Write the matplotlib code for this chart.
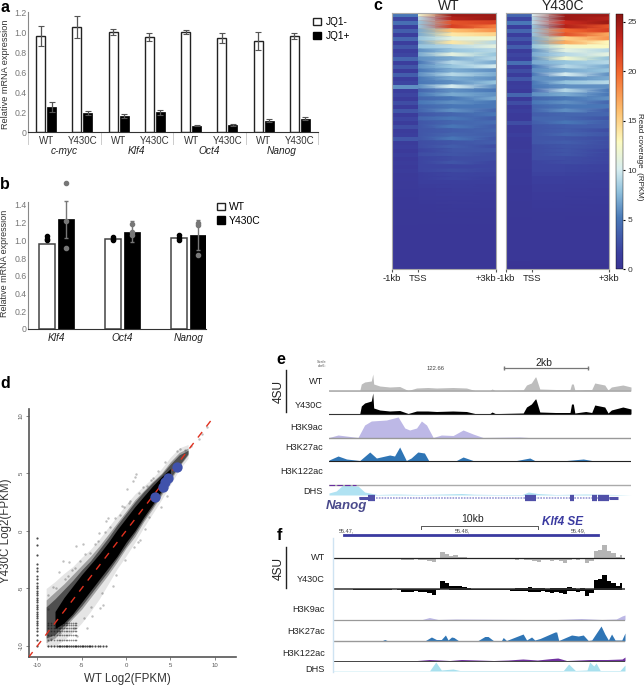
import numpy as np
import matplotlib
matplotlib.use('Agg')
import matplotlib.pyplot as plt
from matplotlib.colors import LinearSegmentedColormap
from matplotlib.patches import Patch

plt.rcParams['font.family'] = ['Liberation Sans', 'DejaVu Sans']

# panel a
a_labels = ['WT', 'Y430C'] * 4
a_groups = ['c-myc', 'Klf4', 'Oct4', 'Nanog']
a_minus = [0.96, 1.05, 1.00, 0.95, 1.00, 0.94, 0.91, 0.96]
a_minus_err = [0.10, 0.11, 0.03, 0.04, 0.02, 0.05, 0.09, 0.03]
a_plus = [0.25, 0.19, 0.16, 0.20, 0.065, 0.075, 0.115, 0.135]
a_plus_err = [0.05, 0.02, 0.02, 0.025, 0.005, 0.01, 0.015, 0.012]

# panel b
b_groups = ['Klf4', 'Oct4', 'Nanog']
b_wt = [0.96, 1.015, 1.03]
b_mut = [1.24, 1.10, 1.06]
b_mut_err = [0.21, 0.12, 0.17]
b_wt_dots = [[1.0, 1.02, 1.05], [1.0, 1.02, 1.04], [1.01, 1.03, 1.06]]
b_mut_dots = [[1.65, 1.22, 0.91], [1.18, 1.06, 1.10], [1.2, 1.17, 0.83]]

# panel c, rows from top to bottom
wt_left = [5, 2, 4.5, 1.5, 3.5, 1.5, 4, 1.5, 3, 1.5, 2, 4, 1.5, 3, 1.2, 3.5, 1.5, 2, 6, 1.5,
           2, 1.2, 2.5, 1.2, 3, 1.2, 2, 1.2, 2.5, 1.2, 1.5, 3, 1.2, 1.5, 1, 1.5, 1, 1.2, 1, 1.2,
           0.9, 1, 0.9, 0.9, 0.8, 0.8, 0.7, 0.7, 0.7, 0.6, 0.6, 0.6, 0.6, 0.5, 0.5, 0.5, 0.5, 0.5, 0.5, 0.5,
           0.5, 0.5, 0.5, 0.5]
wt_tss = [12, 9, 8, 8, 7, 7, 8, 7, 8, 6, 7, 6, 5, 6, 5, 6, 5, 5, 6, 4,
          5, 4, 5, 4, 4, 3, 4, 3, 3, 3, 3, 3, 2.5, 2.5, 2, 2.5, 2, 2, 2, 2,
          1.5, 1.5, 1.5, 1.2, 1, 1, 0.9, 0.8, 0.7, 0.7, 0.6, 0.6, 0.6, 0.5, 0.5, 0.5, 0.5, 0.5, 0.5, 0.5,
          0.5, 0.5, 0.5, 0.5]
wt_near = [25, 24, 21, 22, 16, 14, 11, 14, 9, 8, 11, 7, 9, 8, 7, 9, 7, 6, 10, 6,
           7, 5, 6, 5, 6, 4, 5, 4, 5, 3.5, 4, 5, 3, 3.5, 3, 3, 2.5, 3, 2, 2.5,
           2, 2, 1.5, 1.5, 1.2, 1.2, 1, 1, 0.8, 0.8, 0.7, 0.7, 0.6, 0.6, 0.5, 0.5, 0.5, 0.5, 0.5, 0.5,
           0.5, 0.5, 0.5, 0.5]
wt_far = [25, 25, 22, 19, 18, 15, 12, 9, 11, 9, 8, 9, 7, 10, 6, 7, 6, 8, 6, 5,
          6, 7, 5, 5, 4, 5, 3.5, 4.5, 3.5, 4, 3.5, 3, 3.5, 2.5, 3, 2.5, 2.5, 2, 2, 2,
          1.8, 1.5, 1.5, 1.2, 1.2, 1, 1, 0.8, 0.8, 0.7, 0.7, 0.6, 0.6, 0.5, 0.5, 0.5, 0.5, 0.5, 0.5, 0.5,
          0.5, 0.5, 0.5, 0.5]
mut_left = [4, 2, 5, 1.5, 4, 1.5, 3, 1.5, 3.5, 1.2, 2, 1.5, 4.5, 1.2, 2.5, 1.2, 3, 1.2, 1.5, 1,
            4, 1, 2.5, 1, 1.5, 1, 1, 2.5, 1, 1, 1.5, 1, 0.9, 0.9, 1.2, 0.9, 0.9, 0.9, 0.9, 0.8,
            0.8, 0.8, 0.8, 0.7, 0.7, 0.7, 0.7, 0.6, 0.6, 0.6, 0.6, 0.5, 0.5, 0.5, 0.5, 0.5, 0.5, 0.5, 0.5, 0.5,
            0.5, 0.5, 0.3, 0]
mut_tss = [10, 9, 9, 8, 8, 8, 7, 7, 8, 6, 7, 6, 7, 5, 6, 5, 6, 5, 5, 4,
           6, 4, 5, 4, 4, 3.5, 4, 3.5, 3, 3, 3, 3, 3, 2.5, 2.5, 2.5, 2.5, 2, 2, 2,
           1.8, 1.5, 1.5, 1.2, 1.2, 1, 1, 0.8, 0.8, 0.7, 0.6, 0.6, 0.5, 0.5, 0.5, 0.5, 0.5, 0.5, 0.5, 0.5,
           0.5, 0.5, 0.3, 0]
mut_near = [25, 25, 23, 24, 20, 21, 15, 17, 12, 11, 9, 12, 8, 9, 7, 10, 6, 8, 6, 9,
            7, 5, 6, 5, 6, 4, 4, 5, 3.5, 3.5, 4, 3, 3.5, 3, 3, 3, 2.5, 2.5, 2, 2,
            1.8, 1.5, 1.5, 1.2, 1.2, 1, 1, 0.9, 0.8, 0.7, 0.6, 0.6, 0.5, 0.5, 0.5, 0.5, 0.5, 0.5, 0.5, 0.5,
            0.5, 0.5, 0.3, 0]
mut_far = [25, 24, 25, 21, 22, 17, 18, 13, 13, 9, 11, 8, 9, 7, 8, 6, 7, 9, 6, 5,
           5, 6, 4, 5, 3.5, 4, 3, 3.5, 3.5, 2.5, 3, 2.5, 2.5, 2.5, 2, 2, 2, 2, 1.8, 1.8,
           1.5, 1.5, 1.2, 1.2, 1, 1, 0.8, 0.8, 0.7, 0.7, 0.6, 0.5, 0.5, 0.5, 0.5, 0.5, 0.5, 0.5, 0.5, 0.5,
           0.5, 0.5, 0.3, 0]
heat_body_x = [0.02, 1.3, 3.0]
cbar_ticks = [0, 5, 10, 15, 20, 25]

# panel d
cloud_x = [-9, -8, -7, -6, -5, -4, -3, -2, -1, 0, 1, 2, 3, 4, 5, 6, 7]
outer_lo = [-10, -10, -9.5, -8.8, -8, -7, -5.9, -4.6, -3.3, -2.2, -1, 0.3, 1.5, 2.7, 4, 5.3, 6.3]
outer_hi = [-5, -4.4, -3.7, -3.1, -2.3, -1.6, -0.7, 0.3, 1.3, 2.3, 3.2, 3.9, 4.6, 5.4, 6.4, 7.2, 7.5]
mid_lo = [-9.7, -9.3, -8.5, -7.6, -6.8, -5.8, -4.8, -3.8, -2.7, -1.5, -0.5, 0.8, 1.9, 3.1, 4.4, 5.6, 6.6]
mid_hi = [-6, -5.3, -4.6, -3.8, -3, -2.2, -1.3, -0.3, 0.7, 1.7, 2.7, 3.5, 4.3, 5, 6, 6.8, 7.2]
inner_lo = [-9.3, -9, -8.2, -7.4, -6.5, -5.5, -4.5, -3.5, -2.4, -1.3, -0.2, 1, 2.1, 3.3, 4.6, 5.7, 6.7]
inner_hi = [-6.6, -5.9, -5.1, -4.3, -3.4, -2.6, -1.6, -0.6, 0.5, 1.5, 2.5, 3.4, 4.2, 4.9, 5.8, 6.6, 7]
core_x = [-8, -7, -6, -5, -4, -3, -2, -1, 0, 1, 2, 3, 4, 5]
core_lo = [-8.5, -8, -7.2, -6.2, -5.2, -4.2, -3.2, -2.2, -1, 0, 1.2, 2.3, 3.5, 4.8]
core_hi = [-7, -5.8, -4.8, -3.8, -2.9, -2, -1, 0.1, 1.1, 2.1, 3, 3.9, 4.7, 5.4]
grid_x = [-8.8, -8.4, -8.1, -7.8, -7.6, -7.4, -7.2, -7, -6.8, -6.6, -6.4, -6.2, -6, -5.8, -5.6]
grid_y = [-9.5, -9, -8.7, -8.4, -8.2, -8]
floor_x = [-8.8, -8.4, -8.1, -7.8, -7.6, -7.4, -7.2, -7, -6.8, -6.6, -6.4, -6.2, -6, -5.8, -5.6, -5.4,
           -5.2, -5, -4.8, -4.6, -4.4, -4.2, -4, -3.8, -3.5, -3.2, -2.9, -2.6, -2.3]
wall_y = [-10, -9.5, -9, -8.7, -8.4, -8.2, -8, -7.8, -7.6, -7.4, -7.2, -7, -6.8, -6.6, -6.4, -6.2, -6,
          -5.8, -5.6, -5.4, -5.2, -5, -4.8, -4.5, -4.2, -3.9, -3.5, -3.2, -2.9, -2.1, -1.2, -0.6]
stray_x = [0.1, 1.0, 1.1, 0.8, -0.5, -2, -3, -4.9, -5.6, -7.1, -8.2, -8.8, -8.8, -5.5, -4.4, -2.6, -2.9,
           1.6, 2.6, 4.6, 6.6, 7.3, 8.2, 8.6, 9.1, 6.1, 5.7, 4.4, -1.5, -3.8, 1.3, 2.2, 3.9, -7.6, -6.4, -2.2,
           -6.9, -6.1, -5.2, -4.6, -3.5, -2.4, -1.2, -0.2, 0.5, 1.5, 2.4, 3.1, 3.6, -7.9, -6.5, -5.7, -4.1, -3.2,
           -1.8, -0.7, 0.3, 1.9, 2.8, -8.4, -7.4, -5.9, -4.7, -3.9, -2.7, -1.1, -0.1, 0.9]
stray_y = [3.6, 4.7, 4.9, 4.3, 2.2, 1.1, -0.2, -1.1, -1.3, -2.6, -4.9, -5.6, -6.8, -9.1, -8.4, -6.4, -6.7,
           -0.8, 1.2, 3.0, 7.0, 7.4, 8.0, 8.4, 9.0, 7.1, 6.9, 6.0, -4.8, -7.4, -1.0, 0.2, 2.1, -3.6, -2.7, 0.9,
           -4.2, -3.4, -2.6, -2, -1.1, -0.1, 1.1, 2.1, 2.6, 3.3, 3.9, 4.6, 5.2, -5, -3.9, -3.2, -1.9, -0.9,
           0.3, 1.4, 2.4, 3.8, 4.4, -9.4, -8.9, -8.4, -7.6, -6.6, -5.4, -3.8, -2.5, -1.4]
blue_x = [3.25, 4.15, 4.4, 4.7, 5.7]
blue_y = [2.93, 3.8, 4.2, 4.58, 5.54]
line_ends = [-11, 9.8]

# panel e, positions in percent of the window, heights in pixels
e_x = [0, 10.2, 10.7, 11.8, 14, 14.5, 14.8, 16.8, 20.1, 23.4, 26.2, 29, 32.7, 35.6, 41, 45.5, 48.3, 53.3, 54, 55,
       56.6, 64.3, 65.4, 67, 68.3, 68.5, 69.8, 75, 79.8, 80.3, 80.9, 81.4, 85, 87, 88, 91.3, 92.4, 93.5, 97.3, 100]
e_wt = [0.5, 0.5, 7, 9, 10, 17, 7, 5, 4, 4.5, 0.5, 3, 3.5, 3, 3.5, 3, 0.5, 0.5, 2, 0.5,
        0.5, 1, 6, 8, 14, 14, 2, 1.5, 1.5, 7, 7, 1, 1.5, 1.5, 8, 6, 1, 4, 6, 4]
e_mut = [0.5, 0.5, 8, 11, 13, 21, 6, 4, 3, 3.5, 0.5, 3, 3, 2.5, 3, 2.5, 0.5, 0.5, 2, 0.5,
         0.5, 1, 7, 10, 15, 15, 2, 1.5, 1.5, 10, 10, 1, 2.5, 1.5, 9, 7, 1, 4, 7, 5]
e_k9_x = [0, 3, 9.6, 11.8, 14, 19, 22.9, 25.1, 26.7, 29, 30.6, 32.3, 34.5, 37.2, 41.1, 44.4, 47.7, 51, 63.2, 68.7, 100]
e_k9 = [0.5, 3, 0.5, 13, 17, 18, 21, 10, 8, 10, 17, 13, 0.5, 3, 2.5, 8, 4, 0.5, 1, 0, 0]
e_k27_x = [0, 3, 5.8, 10.2, 13.5, 15.7, 20.1, 21.7, 23.4, 25.6, 27.2, 29.4, 31.6, 33, 42.2, 44.4, 47.7, 62.1, 66.5,
           68.1, 78.7, 84.2, 87, 100]
e_k27 = [1, 5, 2, 0.5, 9, 3, 6, 5, 14, 0.5, 3, 9, 8, 0.5, 0.5, 4, 0.5, 0.5, 3, 0.5, 0.5, 2, 0.5, 0]
e_dhs_x = [0, 2.4, 4.6, 9.6, 11.8, 16, 22, 30, 38, 44, 48, 55, 64, 66, 69, 75, 85, 95, 100]
e_dhs = [2, 4, 10, 9, 3, 0.5, 1, 0.5, 1, 1.5, 0.8, 0.5, 0.5, 3, 1.5, 0.5, 1, 0.5, 0]
e_exons = [(13, 15.1), (64.9, 68.5), (79.8, 81.1), (87, 88.6), (89, 92.7)]
e_utrs = [(9.9, 13), (92.7, 95.6)]

# panel f, 4SU signal in bins of 1.5 percent
f_x = np.arange(0, 100, 1.5)
f_wt_up = [0] * 25 + [6, 4, 2, 3, 1, 1, 0.5] + [0] * 28 + [7, 8, 13, 7, 5, 1, 3]
f_wt_dn = [0, 0, 0, 0, 0.3, 0.5, 0.5, 0.5, 0.3, 0.8, 1, 1, 0.5, 0.5, 0.3, 0.5, 1.5, 2, 1.5, 1,
           1.5, 2, 3, 4, 0.5, 0, 0.3, 0.5, 1, 0.5, 1, 0.5, 0.3, 0.5, 0.3, 0.5, 0.3, 0.3, 0.3, 0.5,
           0.5, 1, 1.5, 1, 1.5, 2, 3, 3.5, 1.5, 2, 3, 2, 3, 5, 2, 1, 2, 1, 5, 3,
           1, 1, 0.5, 0.5, 0.5, 0.3, 0]
f_mut_up = [0] * 25 + [8, 6, 3, 3, 3, 2, 1] + [0] * 10 + [1, 1, 1, 2, 1, 1, 1, 0.5, 1, 1, 1, 1, 2, 1, 0.5, 1, 0.5, 0] \
    + [9, 10, 14, 8, 6, 3, 6]
f_mut_dn = [0, 0, 0, 0, 0.3, 0.8, 1, 0.8, 0.5, 0.8, 1, 1, 0.5, 0.8, 0.3, 0.5, 2.5, 3, 2.5, 2,
            2.5, 3, 3.5, 6, 0.5, 0, 0.3, 0.5, 1, 1, 1, 1, 0.5, 0.8, 0.5, 1, 0.5, 0.5, 0.5, 1,
            1, 1.5, 2, 1.5, 2, 2.5, 3, 3, 2, 3, 4, 3, 4, 5, 2, 1.5, 2.5, 2, 7, 4,
            1, 1, 0.5, 0.5, 0.5, 0.5, 1]
f_k9_x = [0, 30, 33, 36, 42, 75, 85, 92, 97, 99, 100]
f_k9 = [0, 0, 2.5, 0.5, 1, 0.3, 1.5, 0.5, 1, 4, 5]
f_k27_x = [0, 16.6, 17.7, 18.9, 31.4, 33.7, 35.4, 37.1, 38.5, 39.4, 40.6, 41.4, 42.9, 49.7, 52, 53.1, 54.9, 57.7, 58.3,
           59.4, 65.1, 66.3, 68, 69.1, 70.9, 76, 76.6, 77.3, 81.7, 84, 85.7, 87.4, 88.6, 91.8, 93.1, 94.3, 95.4, 96.6, 98.9, 100]
f_k27 = [0, 0, 1.5, 0, 0, 4, 1.5, 1.5, 6, 1, 4, 3.5, 0.5, 0.5, 4.5, 4.5, 0.5, 0.5, 3.5, 0.5,
         7, 1, 4, 1, 2.5, 9, 9, 0.5, 6, 5, 6, 0.5, 1, 15, 7, 1, 7, 1, 1, 8]
f_k122_x = [0, 28, 33, 40, 44, 55, 60, 65, 70, 75, 77, 80, 88, 94, 99, 100]
f_k122 = [0, 0.3, 1.5, 0.5, 1.5, 0.5, 1, 2, 1, 2.5, 3, 0.5, 1.5, 1.5, 2, 4]
f_dhs_x = [0, 33.1, 35.2, 37.1, 41.1, 43.4, 78.9, 80.7, 83, 87, 87.9, 89.3, 90.1, 91.5, 98.3, 100]
f_dhs = [0.3, 0.3, 9, 1, 2, 0.5, 0.5, 7, 0.5, 1, 9, 5, 8, 0.5, 0.5, 6]

W, H = 644, 685
fig = plt.figure(figsize=(W / 100, H / 100), dpi=100)


def box(x0, y0, x1, y1):
    return fig.add_axes([x0 / W, 1 - y1 / H, (x1 - x0) / W, (y1 - y0) / H])


def label(x, y, s, **kw):
    kw.setdefault('ha', 'center')
    kw.setdefault('va', 'center')
    kw.setdefault('color', '#222222')
    fig.text(x / W, 1 - y / H, s, **kw)


for letter, lx, ly in [('a', 5, 8), ('b', 5, 184), ('c', 378, 6), ('d', 5, 383), ('e', 281, 360), ('f', 279, 535)]:
    label(lx, ly, letter, fontsize=11.5, fontweight='bold', color='black')

# a
ax = box(28, 12, 318, 132)
pos = np.arange(8) + 0.5
err_style = dict(ecolor='#555555', elinewidth=0.9, capsize=2, capthick=0.8)
ax.bar(pos - 0.15, a_minus, 0.25, yerr=a_minus_err, color='white', edgecolor='#222222', linewidth=1, error_kw=err_style)
ax.bar(pos + 0.15, a_plus, 0.25, yerr=a_plus_err, color='black', edgecolor='black', linewidth=0.5, error_kw=err_style)
ax.set_xlim(0, 8)
ax.set_ylim(0, 1.2)
ax.set_yticks([0, 0.2, 0.4, 0.6, 0.8, 1.0, 1.2], ['0', '0.2', '0.4', '0.6', '0.8', '1.0', '1.2'])
ax.set_xticks(pos, a_labels)
ax.tick_params(axis='x', length=0, labelsize=7, labelcolor='#333333', pad=3)
ax.tick_params(axis='y', length=0, labelsize=6.3, labelcolor='#777777', pad=1)
for s in ['top', 'right']:
    ax.spines[s].set_visible(False)
ax.spines['left'].set_color('#888888')
ax.spines['bottom'].set_color('#333333')
for sx in [0, 2, 4, 6, 8]:
    ax.plot([sx, sx], [0, -0.12], color='#cccccc', lw=0.7, clip_on=False)
for i, g in enumerate(a_groups):
    ax.text(2 * i + 1, -0.19, g, style='italic', fontsize=7.3, ha='center', va='center', color='#222222')
label(6, 74, 'Relative mRNA expression', fontsize=6.6, rotation=90, color='#333333')
fig.legend(handles=[Patch(facecolor='white', edgecolor='#222222', label='JQ1-'),
                    Patch(facecolor='black', edgecolor='black', label='JQ1+')],
           loc='upper left', bbox_to_anchor=(313 / W, 1 - 17 / H), frameon=False, fontsize=7.3,
           handlelength=0.75, handleheight=0.75, handletextpad=0.5, labelspacing=0.4, borderpad=0, borderaxespad=0)

# b
ax = box(28, 205, 206, 329)
pos = np.arange(3)
ax.bar(pos - 0.14, b_wt, 0.24, color='white', edgecolor='#444444', linewidth=1.1)
ax.bar(pos + 0.14, b_mut, 0.24, color='black', edgecolor='black', linewidth=0.5)
ax.errorbar(pos + 0.14, b_mut, yerr=b_mut_err, fmt='none', ecolor='#777777', elinewidth=1, capsize=1.5, clip_on=False)
for i in range(3):
    ax.scatter([i - 0.14] * 3, b_wt_dots[i], s=9, color='black', zorder=4, clip_on=False)
    ax.scatter([i + 0.14] * 3, b_mut_dots[i], s=9, color='#777777', zorder=4, clip_on=False)
ax.set_xlim(-0.432, 2.265)
ax.set_ylim(0, 1.4)
ax.set_yticks([0, 0.2, 0.4, 0.6, 0.8, 1.0, 1.2, 1.4], ['0', '0.2', '0.4', '0.6', '0.8', '1.0', '1.2', '1.4'])
ax.set_xticks(pos, b_groups, style='italic')
ax.tick_params(axis='x', length=0, labelsize=7.3, labelcolor='#222222', pad=3)
ax.tick_params(axis='y', length=0, labelsize=6.3, labelcolor='#777777', pad=1)
for s in ['top', 'right']:
    ax.spines[s].set_visible(False)
ax.spines['left'].set_color('#888888')
ax.spines['left'].set_bounds(0, 1.43)
ax.spines['bottom'].set_color('#333333')
label(5, 263, 'Relative mRNA expression', fontsize=6.5, rotation=90, color='#333333')
fig.legend(handles=[Patch(facecolor='white', edgecolor='#222222', label='WT'),
                    Patch(facecolor='black', edgecolor='black', label='Y430C')],
           loc='upper left', bbox_to_anchor=(217 / W, 1 - 202 / H), frameon=False, fontsize=7.5,
           handlelength=0.75, handleheight=0.75, handletextpad=0.4, labelspacing=0.35, borderpad=0, borderaxespad=0)

# c
heat_cmap = LinearSegmentedColormap.from_list('coverage', [
    (0.0, '#3a3494'), (0.06, '#3b3f9e'), (0.2, '#4a7ab8'), (0.3, '#8fc0dc'), (0.39, '#d8eef0'),
    (0.5, '#fdfbc0'), (0.62, '#fdc070'), (0.77, '#f36a30'), (0.9, '#c8281e'), (1.0, '#8a1512')])
n_rows = len(wt_near)
row_edges = np.arange(n_rows + 1)
# every row twice, so the shading runs along the row and the rows stay distinct
row_y = np.column_stack([row_edges[:-1], row_edges[1:] - 0.001]).ravel()
panels = [(392, 496, 'WT', wt_left, [wt_tss, wt_near, wt_far]), (506, 609, 'Y430C', mut_left, [mut_tss, mut_near, mut_far])]
for x0, x1, name, left, body in panels:
    ax = box(x0, 13, x1, 269)
    ax.pcolormesh([-1, 0.02], row_edges, np.array(left)[:, None], cmap=heat_cmap, vmin=0, vmax=25.8)
    bx, by = np.meshgrid(heat_body_x, row_y)
    mesh = ax.pcolormesh(bx, by, np.repeat(np.array(body).T, 2, axis=0), cmap=heat_cmap, vmin=0, vmax=25.8, shading='gouraud')
    ax.set_xlim(-1, 3)
    ax.set_ylim(n_rows, 0)
    ax.set_yticks([])
    ax.set_xticks([-1, 0, 3], ['-1kb', 'TSS', '+3kb'])
    ax.tick_params(axis='x', length=2, labelsize=6.8, labelcolor='#222222', color='#555555', pad=1.5)
    if name == 'WT':
        ax.get_xticklabels()[2].set_ha('right')
    for s in ax.spines.values():
        s.set_color('#aaaaaa')
        s.set_linewidth(0.8)
    label((x0 + x1) / 2 + 5, 6, name, fontsize=10)
cax = box(616, 14, 623, 269)
cb = fig.colorbar(mesh, cax=cax, ticks=cbar_ticks)
cb.ax.tick_params(length=1.5, labelsize=6, labelcolor='#333333', pad=1.5)
cb.outline.set_linewidth(0.3)
label(640, 157, 'Read coverage  (RPKM)', fontsize=5.8, rotation=270)

# d
ax = box(29, 409, 236, 657)
ax.fill_between(cloud_x, outer_lo, outer_hi, color='black', alpha=0.1, lw=0)
ax.fill_between(cloud_x, mid_lo, mid_hi, color='black', alpha=0.3, lw=0)
ax.fill_between(cloud_x, inner_lo, inner_hi, color='black', alpha=0.5, lw=0)
ax.fill_between(core_x, core_lo, core_hi, color='black', lw=0)
gx, gy = np.meshgrid(grid_x, grid_y)
ax.scatter(gx.ravel(), gy.ravel(), s=1.5, color='black', alpha=0.45, lw=0)
ax.scatter(floor_x, [-10] * len(floor_x), s=2.5, color='black', alpha=0.7, lw=0)
ax.scatter([-10] * len(wall_y), wall_y, s=2.5, color='black', alpha=0.7, lw=0)
ax.scatter(stray_x, stray_y, s=3, color='black', alpha=0.25, lw=0)
ax.plot(line_ends, line_ends, color='#e0301e', lw=1, dashes=(5, 5), zorder=5)
ax.scatter(blue_x, blue_y, s=55, color='#4052ab', lw=0, zorder=6)
ax.set_xlim(-10.93, 12.4)
ax.set_ylim(-10.95, 10.58)
ax.set_xticks([-10, -5, 0, 5, 10], ['-10', '-5', '0', '5', '10'])
ax.set_yticks([-10, -5, 0, 5, 10], ['-10', '-5', '0', '5', '10'], rotation=90, va='center')
ax.tick_params(length=2, width=0.5, labelsize=4.3, labelcolor='#555555', color='#555555', pad=2)
for s in ['top', 'right']:
    ax.spines[s].set_visible(False)
ax.spines['left'].set_color('#555555')
ax.spines['bottom'].set_color('#555555')
ax.spines['left'].set_linewidth(1.2)
ax.spines['bottom'].set_linewidth(1.2)
label(127, 679, 'WT Log2(FPKM)', fontsize=8.3, color='#333333')
label(6, 531, 'Y430C Log2(FPKM)', fontsize=8.3, rotation=90, color='#333333')


def track(ax, base, xs, ys, color, line='#999999', lw=0.8):
    ax.fill_between(xs, base, base - np.array(ys), color=color, lw=0)
    ax.plot([0, 100], [base, base], color=line, lw=lw)


# e
ax = box(329, 350, 631, 510)
ax.set_xlim(0, 100)
ax.set_ylim(510, 350)
ax.axis('off')
track(ax, 391, e_x, e_wt, '#bdbdbd', '#aaaaaa', 1.1)
track(ax, 414, e_x, e_mut, 'black', '#333333')
track(ax, 438, e_k9_x, e_k9, '#bdb8e6', '#999999', 1)
track(ax, 461, e_k27_x, e_k27, '#2f75b5', '#222222')
ax.plot([0, 100], [485, 485], color='#aaaaaa', lw=1)
ax.plot([0, 9], [484.5, 484.5], color='#6a2ea0', lw=0.8, dashes=(5, 2))
ax.fill_between(e_dhs_x, 495, 495 - np.array(e_dhs), color='#b0e2f2', lw=0)
ax.plot([9.9, 95.6], [498, 498], color='#9a9ad6', lw=1.2, dashes=(1, 0.7))
for ex0, ex1 in e_utrs:
    ax.plot([ex0, ex1], [498, 498], color='#5050a8', lw=2.2, solid_capstyle='butt')
for ex0, ex1 in e_exons:
    ax.plot([ex0, ex1], [498, 498], color='#5050a8', lw=4.5, solid_capstyle='butt')
for ty, s in zip([381, 405, 427, 448, 471, 491], ['WT', 'Y430C', 'H3K9ac', 'H3K27ac', 'H3K122ac', 'DHS']):
    label(323, ty, s, fontsize=6.6, ha='right')
label(279, 392, '4SU', fontsize=8.6, rotation=90)
fig.add_artist(plt.Line2D([286 / W, 286 / W], [1 - 370 / H, 1 - 412 / H], color='#222222', lw=1))
label(346, 506, 'Nanog', fontsize=9.5, style='italic', fontweight='bold', color='#4a4a8c')
label(322, 364, 'Scale\nchr6:', fontsize=2.8, color='#555555', linespacing=0.9)
label(436, 368, '122.66', fontsize=4.2, color='#444444')
label(544, 363, '2kb', fontsize=7.5)
fig.add_artist(plt.Line2D([504 / W, 588 / W], [1 - 368 / H, 1 - 368 / H], color='#777777', lw=0.9,
                          marker='|', markersize=2.5, markevery=1))

# f
ax = box(333, 530, 625, 680)
ax.set_xlim(0, 100)
ax.set_ylim(680, 530)
ax.axis('off')
ax.fill_between(f_x, 558 - np.array(f_wt_up), 558 + np.array(f_wt_dn), color='#b5b5b5', lw=0, step='mid')
ax.plot([0, 100], [558, 558], color='#222222', lw=0.9)
ax.fill_between(f_x, 589 - np.array(f_mut_up), 589 + np.array(f_mut_dn), color='black', lw=0, step='mid')
ax.plot([0, 100], [589, 589], color='#333333', lw=1.1)
track(ax, 620, f_k9_x, f_k9, '#bdb8e6', '#999999', 0.9)
track(ax, 641, f_k27_x, f_k27, '#2f75b5', '#999999', 1)
track(ax, 661, f_k122_x, f_k122, '#7030a0', '#444444', 0.7)
ax.fill_between(f_dhs_x, 671, 671 - np.array(f_dhs), color='#a8e0ee', lw=0)
for ty, s in zip([558, 580, 609, 631, 653, 669], ['WT', 'Y430C', 'H3K9ac', 'H3K27ac', 'H3K122ac', 'DHS']):
    label(325, ty, s, fontsize=6.6, ha='right')
label(279, 568, '4SU', fontsize=8.6, rotation=90)
fig.add_artist(plt.Line2D([286 / W, 286 / W], [1 - 547 / H, 1 - 588 / H], color='#222222', lw=1))
fig.add_artist(plt.Line2D([333 / W, 333 / W], [1 - 538 / H, 1 - 672 / H], color='#cfe3f2', lw=1))
fig.add_artist(plt.Line2D([344 / W, 598 / W], [1 - 535 / H, 1 - 535 / H], color='#3a3aa0', lw=2))
fig.add_artist(plt.Line2D([421 / W, 421 / W, 538 / W, 538 / W], [1 - 529 / H, 1 - 526 / H, 1 - 526 / H, 1 - 529 / H],
                          color='#555555', lw=0.7))
label(473, 519, '10kb', fontsize=7.5)
label(563, 522, 'Klf4 SE', fontsize=8.5, style='italic', fontweight='bold', color='#3a3aa0')
for tx, s in [(346, '55.47,'), (462, '55.48,'), (578, '55.49,')]:
    label(tx, 531, s, fontsize=4, color='#444444')

fig.savefig('out.png', dpi=100)
